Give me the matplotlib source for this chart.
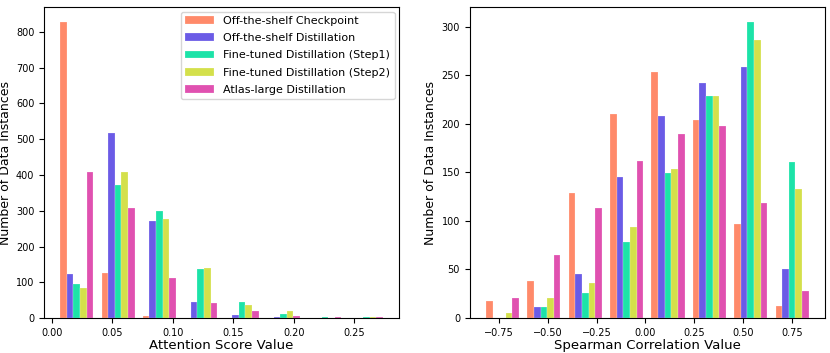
import numpy as np
import matplotlib
matplotlib.use("Agg")
import matplotlib.pyplot as plt

series_names = ["Off-the-shelf Checkpoint", "Off-the-shelf Distillation",
                "Fine-tuned Distillation (Step1)", "Fine-tuned Distillation (Step2)",
                "Atlas-large Distillation"]
colors = ["#ff8a6a", "#6b5be6", "#1ce3a8", "#d4e04b", "#e051b0"]

# attention score histogram (8 bins)
attn_edges = [0.0033, 0.0375, 0.0717, 0.1059, 0.1401, 0.1743, 0.2085, 0.2427, 0.2769]
attn_counts = [
    [828, 126, 7, 0, 0, 0, 0, 0],
    [124, 517, 270, 45, 9, 2, 1, 0],
    [96, 372, 300, 137, 45, 10, 3, 2],
    [85, 408, 277, 140, 37, 19, 1, 2],
    [408, 308, 111, 42, 20, 6, 3, 2],
]

# spearman correlation histogram (8 bins)
spear_edges = [-0.838, -0.626, -0.414, -0.202, 0.010, 0.222, 0.434, 0.646, 0.858]
spear_counts = [
    [18, 38, 129, 210, 253, 204, 97, 12],
    [0, 11, 45, 145, 208, 242, 259, 50],
    [0, 11, 26, 78, 149, 229, 305, 161],
    [5, 21, 36, 94, 154, 229, 286, 133],
    [21, 65, 113, 162, 190, 198, 118, 28],
]


def draw_hist(ax, edges, counts, xlabel):
    edges = np.array(edges)
    bw = np.diff(edges)
    n = len(counts)
    w = 0.8 * bw / n
    for i, (c, col, name) in enumerate(zip(counts, colors, series_names)):
        x = edges[:-1] + 0.1 * bw + i * w
        ax.bar(x, c, width=w, align="edge", color=col, edgecolor=(1, 1, 1, 0.5),
               linewidth=0.3, label=name)
    ax.set_xlabel(xlabel, fontsize=9.5, labelpad=1)
    ax.set_ylabel("Number of Data Instances", fontsize=9, labelpad=3)
    ax.tick_params(labelsize=7)


fig = plt.figure(figsize=(8.3, 3.53), dpi=100)
ax1 = fig.add_axes([0.053, 0.099, 0.4277, 0.881])
ax2 = fig.add_axes([0.566, 0.099, 0.4277, 0.881])

draw_hist(ax1, attn_edges, attn_counts, "Attention Score Value")
draw_hist(ax2, spear_edges, spear_counts, "Spearman Correlation Value")

ax1.set_xticks([0.0, 0.05, 0.10, 0.15, 0.20, 0.25])
ax2.set_xticks([-0.75, -0.5, -0.25, 0.0, 0.25, 0.5, 0.75])
ax1.legend(loc="upper right", fontsize=8, handlelength=2.6, labelspacing=0.65,
           borderaxespad=0.4)

fig.savefig("out.png", dpi=100)
